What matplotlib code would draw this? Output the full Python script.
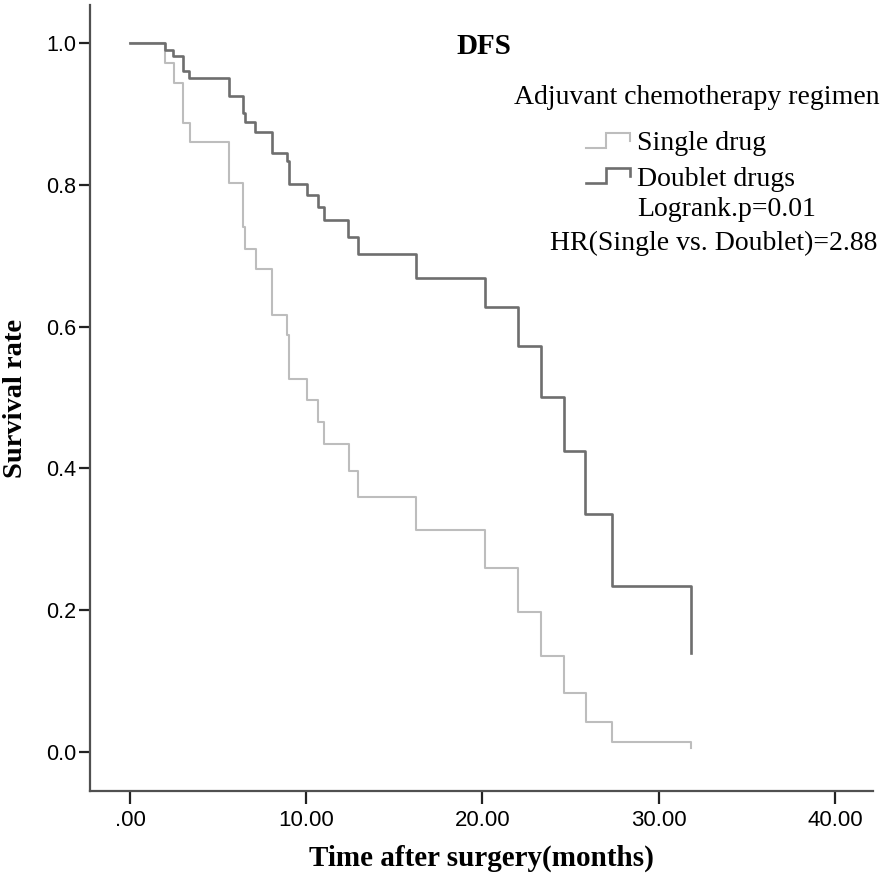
import matplotlib
matplotlib.use("Agg")
import matplotlib.pyplot as plt
from matplotlib.legend_handler import HandlerBase
from matplotlib.lines import Line2D

# Kaplan-Meier step data (months, survival)
single_times = [0, 1.99, 2.50, 2.99, 3.40, 5.64, 6.43, 6.53, 7.13, 8.04, 8.93, 9.02,
                10.02, 10.69, 11.0, 12.43, 12.92, 16.21, 20.14, 22.03, 23.3, 24.64,
                25.85, 27.37, 31.83]
single_surv = [1.0, 0.972, 0.943, 0.887, 0.860, 0.802, 0.741, 0.710, 0.681, 0.616, 0.588, 0.526,
               0.497, 0.466, 0.435, 0.397, 0.360, 0.313, 0.260, 0.198, 0.136, 0.083,
               0.043, 0.0146, 0.006]

doublet_times = [0, 1.99, 2.46, 2.99, 3.37, 5.64, 6.43, 6.53, 7.09, 8.04, 8.89, 9.04,
                 10.02, 10.69, 11.0, 12.39, 12.92, 16.23, 20.14, 22.03, 23.3, 24.64,
                 25.82, 27.37, 31.83]
doublet_surv = [1.0, 0.990, 0.982, 0.960, 0.950, 0.925, 0.901, 0.889, 0.875, 0.845, 0.833, 0.801,
                0.786, 0.768, 0.750, 0.727, 0.703, 0.669, 0.627, 0.572, 0.501, 0.424,
                0.335, 0.234, 0.140]

x_ticks = [0, 10, 20, 30, 40]
x_tick_labels = [".00", "10.00", "20.00", "30.00", "40.00"]
y_ticks = [0.0, 0.2, 0.4, 0.6, 0.8, 1.0]
y_tick_labels = ["0.0", "0.2", "0.4", "0.6", "0.8", "1.0"]

SINGLE_COLOR = "#bdbdbd"
DOUBLET_COLOR = "#6e6e6e"
AXIS_COLOR = "#505050"
SERIF = "Liberation Serif"
SANS = "Liberation Sans"

W, H = 886, 883


class StepHandler(HandlerBase):
    """ Draw the little SPSS style step glyph used in the legend. """
    def create_artists(self, legend, orig_handle, xdescent, ydescent, width, height, fontsize, trans):
        xs = [0, 0.46, 0.46, 1.0, 1.0]
        ys = [0.0, 0.0, 1.0, 1.0, 0.45]
        line = Line2D([x * width - xdescent for x in xs],
                      [y * height - ydescent for y in ys],
                      color=orig_handle.get_color(), lw=orig_handle.get_linewidth(),
                      solid_joinstyle="miter", transform=trans)
        return [line]


fig = plt.figure(figsize=(W / 100, H / 100), dpi=100)
ax = fig.add_axes([90 / W, 1 - 791 / H, 783 / W, 786 / H])

l1, = ax.step(single_times, single_surv, where="post", color=SINGLE_COLOR, lw=1.5)
l2, = ax.step(doublet_times, doublet_surv, where="post", color=DOUBLET_COLOR, lw=1.9)

ax.set_xlim(-2.27, 42.16)
ax.set_ylim(-0.055, 1.0536)

for side in ["top", "right"]:
    ax.spines[side].set_visible(False)
for side in ["left", "bottom"]:
    ax.spines[side].set_color(AXIS_COLOR)
    ax.spines[side].set_linewidth(1.6)

ax.set_xticks(x_ticks)
ax.set_xticklabels(x_tick_labels, fontfamily=SANS, fontsize=16)
ax.set_yticks(y_ticks)
ax.set_yticklabels(y_tick_labels, fontfamily=SANS, fontsize=15.5)
ax.tick_params(axis="x", length=9, width=1.6, color="#222222", pad=5)
ax.tick_params(axis="y", length=8, width=1.6, color="#222222", pad=2)

ax.set_xlabel("Time after surgery(months)", fontfamily=SERIF, fontweight="bold", fontsize=21)
ax.xaxis.set_label_coords(0.4994, (791 - 858) / 786)
ax.xaxis.label.set_va("center")
ax.set_ylabel("Survival rate", fontfamily=SERIF, fontweight="bold", fontsize=20.5)
ax.yaxis.set_label_coords((16 - 90) / 783, 0.5)
ax.yaxis.label.set_va("center")

# titles and annotations
fig.text(484 / W, 1 - 46 / H, "DFS", fontfamily=SERIF, fontweight="bold", fontsize=21,
         ha="center", va="center")
fig.text(880 / W, 1 - 97 / H, "Adjuvant chemotherapy regimen", fontfamily=SERIF, fontsize=20,
         ha="right", va="center")
fig.text(637 / W, 1 - 209 / H, "Logrank.p=0.01", fontfamily=SERIF, fontsize=20,
         ha="left", va="center")
fig.text(877 / W, 1 - 243 / H, "HR(Single vs. Doublet)=2.88", fontfamily=SERIF, fontsize=20,
         ha="right", va="center")

leg = fig.legend([l1, l2], ["Single drug", "Doublet drugs"],
                 handler_map={Line2D: StepHandler()},
                 loc="upper left", bbox_to_anchor=(586 / W, 1 - 131 / H),
                 frameon=False, prop={"family": SERIF, "size": 20},
                 borderpad=0, borderaxespad=0, handlelength=1.6, handleheight=0.45,
                 handletextpad=0.25, labelspacing=0.38)

fig.savefig("out.png", dpi=100)
